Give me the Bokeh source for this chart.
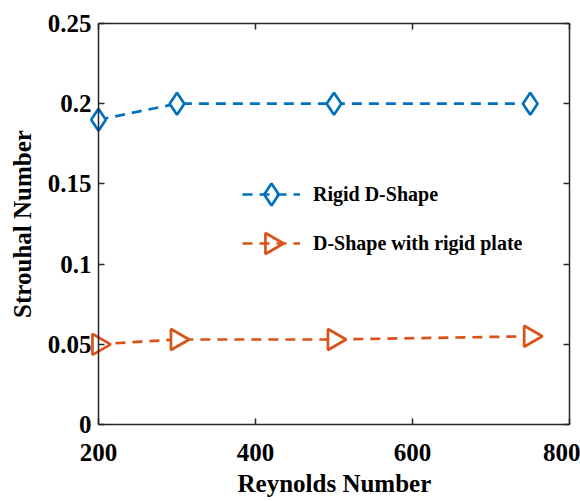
import numpy as np
from bokeh.plotting import figure
from bokeh.models import (Range1d, LinearAxis, FixedTicker, Legend, LegendItem, Span, Title)
from bokeh.embed import file_html
from bokeh.resources import INLINE

# ---- data ----
reynolds = [200, 300, 500, 750]
st_rigid = [0.19, 0.20, 0.20, 0.20]
st_plate = [0.050, 0.053, 0.053, 0.055]
labels = ["Rigid D-Shape", "D-Shape with rigid plate"]
x_ticks = [200, 400, 600, 800]
x_tick_labels = ["200", "400", "600", "800"]
y_ticks = [0, 0.05, 0.1, 0.15, 0.2, 0.25]
y_tick_labels = ["0", "0.05", "0.1", "0.15", "0.2", "0.25"]
x_title = "Reynolds Number"
y_title = "Strouhal Number"
X_MIN, X_MAX = 200, 800
Y_MIN, Y_MAX = 0, 0.25

BLUE = "#0072BD"
ORANGE = "#D95319"
AX = "#262626"
FONT = "Liberation Serif"

# ---- layout (pixels) ----
W, H = 580, 501
B_LEFT, B_RIGHT, B_TOP, B_BOTTOM = 86, 11, 23, 77
PAD = 12                      # room left of the y axis so edge markers are not cut
FRAME_W = W - B_LEFT - B_RIGHT
FRAME_H = H - B_TOP - B_BOTTOM
x_start = X_MIN - PAD * (X_MAX - X_MIN) / (FRAME_W - PAD)

p = figure(width=W, height=H, output_backend="svg", toolbar_location=None,
           x_range=Range1d(x_start, X_MAX), y_range=Range1d(Y_MIN, Y_MAX),
           min_border_left=B_LEFT, min_border_right=B_RIGHT, min_border_top=B_TOP,
           min_border_bottom=B_BOTTOM)
p.grid.visible = False
p.outline_line_color = None
p.background_fill_color = "white"
p.border_fill_color = "white"
p.extra_x_ranges = {"px": Range1d(0, FRAME_W)}
p.extra_y_ranges = {"px": Range1d(0, FRAME_H)}

def style_axis(ax, ticks, overrides, show_labels=True):
    ax.ticker = FixedTicker(ticks=ticks)
    ax.axis_line_color = AX
    ax.axis_line_width = 1.5
    ax.major_tick_line_color = AX
    ax.major_tick_line_width = 1.5
    ax.major_tick_in = 6
    ax.major_tick_out = 0
    ax.minor_tick_line_color = None
    if show_labels:
        ax.major_label_overrides = overrides
        ax.major_label_text_font = FONT
        ax.major_label_text_font_style = "bold"
        ax.major_label_text_font_size = "25px"
        ax.major_label_text_color = "black"
        ax.axis_label_text_font = FONT
        ax.axis_label_text_font_style = "bold"
        ax.axis_label_text_font_size = "25px"
        ax.axis_label_text_color = "black"
    else:
        ax.major_label_text_font_size = "0px"
        ax.major_label_text_color = None
        ax.major_label_standoff = 0

xa = p.xaxis[0]
ya = p.yaxis[0]
style_axis(xa, x_ticks, {t: l for t, l in zip(x_ticks, x_tick_labels)})
style_axis(ya, y_ticks, {t: l for t, l in zip(y_ticks, y_tick_labels)})
xa.bounds = (X_MIN, X_MAX)
xa.major_label_standoff = 19
ya.axis_label = y_title
# y axis sits PAD px inside the frame edge: ticks pushed in, labels pulled in
ya.axis_line_color = None
ya.major_tick_out = -PAD
ya.major_tick_in = PAD + 6
ya.major_label_standoff = 7 - PAD
ya.axis_label_standoff = 9
p.add_layout(Span(location=X_MIN, dimension="height", line_color=AX, line_width=1.5))

# x axis title, centred on the visible axis (200..800)
xt = Title(text=x_title, align="left", offset=151, standoff=8,
           text_font=FONT, text_font_style="bold", text_font_size="25px",
           text_color="black")
p.add_layout(xt, "below")

top = LinearAxis()
style_axis(top, x_ticks, None, show_labels=False)
top.bounds = (X_MIN, X_MAX)
p.add_layout(top, "above")
right = LinearAxis()
style_axis(right, y_ticks, None, show_labels=False)
p.add_layout(right, "right")

l1 = p.line(reynolds, st_rigid, line_color=BLUE, line_width=2.7, line_dash="10 7")
s1 = p.scatter(reynolds, st_rigid, marker="diamond", size=22, fill_color="white",
               line_color=BLUE, line_width=2.7)
l2 = p.line(reynolds, st_plate, line_color=ORANGE, line_width=2.7, line_dash="10 7")
s2 = p.scatter(reynolds, st_plate, marker="triangle", angle=-np.pi / 2, size=21,
               fill_color="white", line_color=ORANGE, line_width=2.7)

# ---- legend: labels + dashed keys by Bokeh, key markers drawn on top in frame pixels ----
LEG_X, LEG_Y = 156, 169        # legend bottom-left, px from frame bottom-left
GLYPH_W, ITEM_H, SPACING = 58, 24, 25
legend = Legend(items=[LegendItem(label=labels[0], renderers=[l1]),
                       LegendItem(label=labels[1], renderers=[l2])],
                location=(LEG_X, LEG_Y))
legend.border_line_color = None
legend.background_fill_alpha = 0
legend.padding = 0
legend.margin = 0
legend.spacing = SPACING
legend.glyph_width = GLYPH_W
legend.glyph_height = ITEM_H
legend.label_height = ITEM_H
legend.label_standoff = 13
legend.label_text_font = FONT
legend.label_text_font_style = "bold"
legend.label_text_font_size = "20px"
legend.label_text_color = "black"
p.add_layout(legend, "center")

key_x = LEG_X + GLYPH_W / 2
key_y_plate = LEG_Y + ITEM_H / 2
key_y_rigid = key_y_plate + ITEM_H + SPACING
k1 = p.scatter([key_x], [key_y_rigid], marker="diamond", size=22, fill_color="white",
               line_color=BLUE, line_width=2.7, x_range_name="px", y_range_name="px",
               level="overlay")
k2 = p.scatter([key_x], [key_y_plate], marker="triangle", angle=-np.pi / 2, size=21,
               fill_color="white", line_color=ORANGE, line_width=2.7,
               x_range_name="px", y_range_name="px", level="overlay")

open("out.html", "w").write(file_html(p, INLINE))
